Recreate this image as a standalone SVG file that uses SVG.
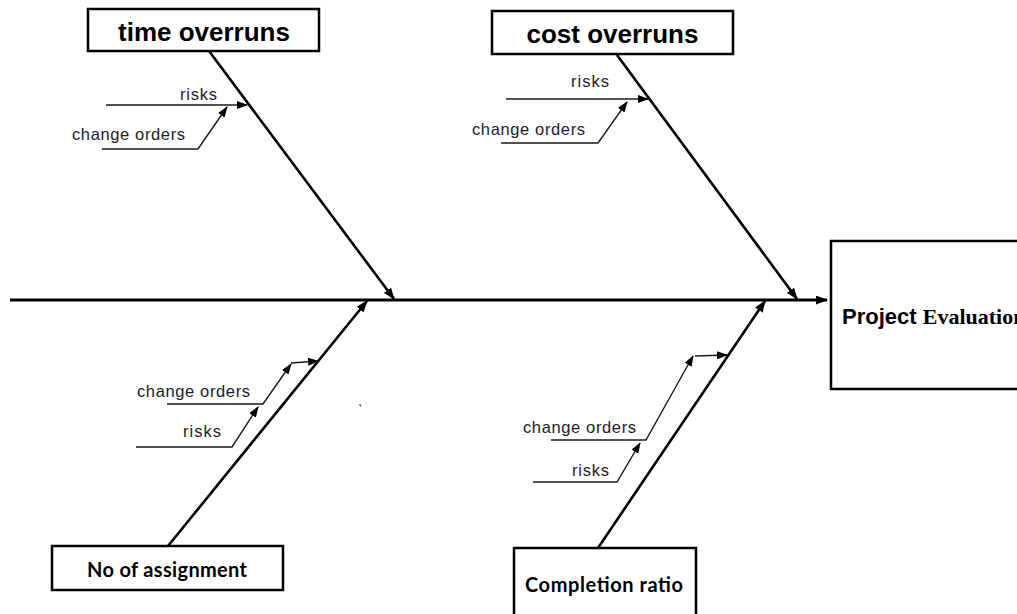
<svg xmlns="http://www.w3.org/2000/svg" width="1017" height="614" viewBox="0 0 1017 614">
  <style>
    .box { fill: #fff; stroke: #000; stroke-width: 2.5; }
    .spine { fill: none; stroke: #000; stroke-width: 3; }
    .bone { fill: none; stroke: #000; stroke-width: 2.6; }
    .sub { fill: none; stroke: #1a1a1a; stroke-width: 1.4; }
    .head { font-family: "Liberation Sans", Arial, sans-serif; font-weight: bold; font-size: 26px; fill: #000; }
    .lbl { font-family: "Liberation Sans", Arial, sans-serif; font-size: 16.5px; fill: #1c1c2c; }
    .cal { font-family: Lato, "Open Sans", sans-serif; font-weight: bold; font-size: 20px; fill: #000; }
    .proj { font-family: "Liberation Sans", Arial, sans-serif; font-weight: bold; font-size: 22px; fill: #000; }
    .projs { font-family: "Liberation Serif", "Times New Roman", serif; font-weight: bold; font-size: 22px; }
  </style>
  <defs>
    <marker id="arrowBig" viewBox="0 0 12 9" markerWidth="12" markerHeight="9" refX="11" refY="4.5" orient="auto" markerUnits="userSpaceOnUse">
      <path d="M0,0 L12,4.5 L0,9 Z" fill="#000"/>
    </marker>
    <marker id="arrowSmall" viewBox="0 0 11 8" markerWidth="11" markerHeight="8" refX="10" refY="4" orient="auto" markerUnits="userSpaceOnUse">
      <path d="M0,0 L11,4 L0,8 Z" fill="#000"/>
    </marker>
  </defs>

  <!-- connectors: spine, main bones and cause arrows -->
  <g id="connectors">
    <path class="spine" d="M10,300 L827,300" marker-end="url(#arrowBig)"/>
    <path class="bone" d="M209,51 L394,299" marker-end="url(#arrowBig)"/>
    <path class="bone" d="M617,55 L797,299" marker-end="url(#arrowBig)"/>
    <path class="bone" d="M168,546 L367,301" marker-end="url(#arrowBig)"/>
    <path class="bone" d="M598,548 L765,301" marker-end="url(#arrowBig)"/>

    <!-- time overruns causes -->
    <path class="sub" d="M106,105 L247,105" marker-end="url(#arrowSmall)"/>
    <path class="sub" d="M102,149 L198,149 L227,107" marker-end="url(#arrowSmall)"/>

    <!-- cost overruns causes -->
    <path class="sub" d="M506,99 L648,99" marker-end="url(#arrowSmall)"/>
    <path class="sub" d="M501,143 L598,143 L627,102" marker-end="url(#arrowSmall)"/>

    <!-- no of assignment causes -->
    <path class="sub" d="M167,404 L263,404 L291,364" marker-end="url(#arrowSmall)"/>
    <path class="sub" d="M291,363 L318,361" marker-end="url(#arrowSmall)"/>
    <path class="sub" d="M136,447 L232,447 L258,407" marker-end="url(#arrowSmall)"/>

    <!-- completion ratio causes -->
    <path class="sub" d="M551,440 L646,440 L693,356" marker-end="url(#arrowSmall)"/>
    <path class="sub" d="M695,356 L727,355" marker-end="url(#arrowSmall)"/>
    <path class="sub" d="M533,482 L617,482 L640,443" marker-end="url(#arrowSmall)"/>
  </g>

  <!-- cause labels -->
  <g id="labels">
    <text class="lbl" x="180" y="100" textLength="37">risks</text>
    <text class="lbl" x="72" y="140" textLength="113">change orders</text>
    <text class="lbl" x="571" y="87" textLength="38">risks</text>
    <text class="lbl" x="472" y="135" textLength="113">change orders</text>
    <text class="lbl" x="137" y="397" textLength="113">change orders</text>
    <text class="lbl" x="183" y="437" textLength="38">risks</text>
    <text class="lbl" x="523" y="433" textLength="113">change orders</text>
    <text class="lbl" x="572" y="476" textLength="37">risks</text>
  </g>

  <g id="time-overruns">
    <rect class="box" x="88" y="9" width="231" height="42"/>
    <text class="head" x="204" y="41" text-anchor="middle">time overruns</text>
  </g>

  <g id="cost-overruns">
    <rect class="box" x="492" y="11" width="241" height="43"/>
    <text class="head" x="612.5" y="43" text-anchor="middle">cost overruns</text>
  </g>

  <g id="no-of-assignment">
    <rect class="box" x="52" y="546" width="231" height="44"/>
    <text class="cal" x="87" y="577" textLength="160">No of assignment</text>
  </g>

  <g id="completion-ratio">
    <rect class="box" x="514" y="548" width="182" height="72"/>
    <text class="cal" x="525" y="592" textLength="158">Completion ratio</text>
  </g>

  <g id="project-evaluation">
    <rect class="box" x="831" y="241" width="200" height="148"/>
    <text class="proj" x="842" y="324">Project <tspan class="projs">Evaluation</tspan></text>
  </g>

  <!-- small stray mark below the spine -->
  <path d="M359.5,404.5 L361,406" stroke="#333" stroke-width="1.2"/>
</svg>
